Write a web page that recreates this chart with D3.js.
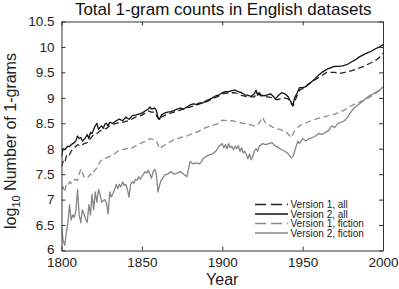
<!DOCTYPE html>
<html><head><meta charset="utf-8">
<script src="https://cdn.jsdelivr.net/npm/d3@7"></script>
<style>body{margin:0;background:#fff}svg{display:block}text{font-family:"Liberation Sans",Arial,sans-serif}</style>
</head><body><div id="c"></div>
<script>
const yearsV2All = [1800,1801,1802,1803,1804,1805,1806,1807,1808,1809,1810,1811,1812,1813,1814,1815,1816,1817,1818,1819,1820,1821,1822,1823,1824,1825,1826,1827,1828,1829,1830,1832,1834,1836,1838,1840,1842,1844,1846,1848,1850,1852,1854,1855,1856,1858,1859,1860,1861,1862,1864,1866,1868,1870,1872,1874,1876,1878,1880,1882,1884,1886,1888,1890,1892,1894,1896,1898,1900,1902,1904,1906,1908,1910,1912,1914,1916,1918,1920,1921,1922,1923,1924,1926,1928,1930,1932,1933,1935,1937,1939,1941,1943,1944,1945,1947,1948,1950,1952,1955,1958,1960,1962,1965,1968,1970,1972,1975,1978,1980,1983,1985,1988,1990,1993,1995,1998,2000];
const v2All = [7.85,8.0,7.98,8.02,8.05,8.04,8.08,8.1,8.12,8.16,8.25,8.2,8.22,8.15,8.18,8.22,8.28,8.2,8.32,8.3,8.38,8.45,8.5,8.38,8.42,8.45,8.4,8.48,8.5,8.45,8.52,8.5,8.55,8.58,8.55,8.62,8.58,8.65,8.66,8.68,8.7,8.74,8.78,8.82,8.78,8.8,8.75,8.62,8.58,8.66,8.7,8.72,8.73,8.75,8.78,8.8,8.78,8.82,8.86,8.88,8.87,8.9,8.9,8.94,8.97,9.0,9.04,9.06,9.1,9.12,9.12,9.14,9.15,9.12,9.1,9.06,9.05,9.03,9.08,9.15,9.05,9.1,9.06,9.04,9.06,9.08,9.02,8.98,9.05,9.1,9.08,9.02,8.9,8.86,9.0,9.12,9.2,9.2,9.22,9.3,9.38,9.45,9.5,9.56,9.6,9.62,9.62,9.63,9.66,9.7,9.75,9.8,9.85,9.88,9.92,9.96,10.0,10.05];
const yearsV1All = [1800,1801,1802,1803,1804,1805,1806,1807,1808,1810,1812,1814,1816,1818,1820,1822,1824,1826,1828,1830,1834,1838,1842,1846,1850,1854,1856,1858,1860,1861,1862,1866,1870,1874,1878,1882,1886,1890,1894,1898,1900,1904,1908,1912,1916,1920,1922,1924,1928,1932,1934,1938,1941,1943,1944,1946,1948,1950,1954,1958,1962,1965,1968,1970,1973,1976,1980,1984,1988,1992,1996,1998,2000];
const v1All = [7.65,7.75,7.72,7.85,7.9,7.88,7.95,8.0,8.02,8.08,8.05,8.1,8.12,8.2,8.28,8.3,8.35,8.38,8.4,8.45,8.5,8.52,8.55,8.62,8.66,8.74,8.72,8.72,8.6,8.56,8.62,8.68,8.72,8.76,8.8,8.84,8.88,8.92,8.98,9.04,9.08,9.1,9.1,9.05,9.02,9.02,9.1,9.04,9.02,9.0,8.96,9.0,8.98,8.88,8.84,9.0,9.15,9.18,9.28,9.36,9.44,9.5,9.5,9.5,9.48,9.5,9.53,9.57,9.62,9.68,9.75,9.8,9.88];
const yearsV1Fic = [1800,1801,1802,1803,1804,1805,1806,1808,1810,1811,1812,1814,1816,1818,1819,1820,1822,1824,1826,1828,1830,1832,1835,1838,1840,1843,1846,1850,1853,1855,1857,1859,1861,1863,1866,1870,1874,1878,1882,1886,1890,1894,1898,1900,1903,1906,1910,1913,1916,1920,1923,1925,1927,1930,1933,1936,1940,1943,1945,1948,1950,1953,1956,1960,1963,1966,1970,1973,1976,1980,1984,1988,1992,1996,2000];
const v1Fic = [7.2,7.25,7.15,7.3,7.28,7.35,7.32,7.4,7.38,7.5,7.6,7.45,7.42,7.5,7.48,7.55,7.62,7.75,7.8,7.82,7.85,7.88,7.95,7.98,8.0,8.0,8.05,8.12,8.15,8.2,8.18,8.15,8.0,8.05,8.1,8.18,8.22,8.25,8.3,8.35,8.42,8.46,8.5,8.56,8.55,8.55,8.52,8.5,8.48,8.45,8.5,8.62,8.5,8.45,8.4,8.38,8.32,8.22,8.35,8.45,8.48,8.52,8.56,8.6,8.62,8.65,8.68,8.72,8.76,8.84,8.9,8.95,9.02,9.1,9.2];
const yearsV2Fic = [1800,1801,1802,1803,1804,1805,1806,1807,1808,1809,1810,1811,1812,1813,1814,1815,1816,1817,1818,1819,1820,1821,1822,1823,1824,1825,1826,1827,1828,1829,1830,1831,1832,1833,1834,1835,1836,1837,1838,1839,1840,1841,1842,1843,1844,1845,1846,1847,1848,1849,1850,1851,1852,1853,1854,1855,1856,1857,1858,1859,1860,1861,1862,1863,1864,1866,1868,1870,1872,1874,1876,1878,1879,1880,1882,1884,1886,1888,1890,1892,1894,1896,1898,1900,1901,1902,1903,1904,1905,1906,1907,1908,1909,1910,1911,1912,1913,1914,1915,1916,1917,1918,1919,1920,1921,1922,1923,1925,1927,1929,1931,1933,1935,1937,1939,1941,1943,1944,1945,1946,1947,1948,1950,1952,1954,1956,1958,1960,1962,1964,1966,1968,1970,1972,1974,1976,1978,1980,1982,1984,1986,1988,1990,1992,1994,1996,1998,2000];
const v2Fic = [6.45,6.2,6.1,6.35,6.55,6.9,6.6,6.7,6.65,6.8,7.2,6.7,6.55,6.8,6.72,6.62,6.55,6.9,6.7,7.1,6.8,7.15,6.95,7.2,7.1,6.95,6.98,7.0,6.92,6.72,7.15,7.05,7.12,7.2,7.3,7.22,7.3,7.25,7.35,7.28,7.3,7.2,7.05,7.3,7.35,7.32,7.4,7.38,7.45,7.4,7.45,7.5,7.55,7.52,7.58,7.5,7.42,7.55,7.6,7.5,7.15,7.28,7.38,7.42,7.48,7.5,7.55,7.5,7.52,7.55,7.5,7.45,7.6,7.75,7.7,7.72,7.7,7.8,7.85,7.88,7.9,7.95,8.05,8.1,8.02,8.08,8.0,8.1,8.02,8.05,7.98,8.05,8.0,8.06,7.95,8.02,7.92,7.95,7.88,7.8,7.9,7.78,7.85,7.95,8.0,7.95,8.05,8.1,8.08,8.1,8.12,8.05,8.02,7.98,7.95,7.9,7.82,7.85,7.95,8.05,8.15,8.1,8.2,8.15,8.2,8.22,8.25,8.3,8.28,8.32,8.35,8.45,8.42,8.5,8.52,8.55,8.62,8.72,8.8,8.85,8.9,8.95,9.0,9.05,9.08,9.12,9.15,9.22];
const yTicks = [6,6.5,7,7.5,8,8.5,9,9.5,10,10.5];
const xTicks = [1800,1850,1900,1950,2000];
const seriesNames = ["Version 1, all","Version 2, all","Version 1, fiction","Version 2, fiction"];

const W=399,H=289, L=61.5, R=383, T=21.5, B=250.5;
const svg=d3.select("#c").append("svg").attr("width",W).attr("height",H);
const x=d3.scaleLinear().domain([1800,2000]).range([L,R]);
const y=d3.scaleLinear().domain([6,10.5]).range([B,T]);

const series=[
 {name:seriesNames[0],yrs:yearsV1All,v:v1All,color:"#222",dash:"6,3.5",w:1.3},
 {name:seriesNames[1],yrs:yearsV2All,v:v2All,color:"#111",dash:null,w:1.3},
 {name:seriesNames[2],yrs:yearsV1Fic,v:v1Fic,color:"#8c8c8c",dash:"6,3.5",w:1.3},
 {name:seriesNames[3],yrs:yearsV2Fic,v:v2Fic,color:"#858585",dash:null,w:1.3}
];
const line=d3.line().x(d=>x(d[0])).y(d=>y(d[1]));
const g=svg.append("g");
g.append("clipPath").attr("id","cp").append("rect").attr("x",L).attr("y",T).attr("width",R-L).attr("height",B-T);
[3,2,0,1].forEach(i=>{const s=series[i];
 g.append("path").attr("clip-path","url(#cp)").datum(s.yrs.map((yr,j)=>[yr,s.v[j]]))
  .attr("d",line).attr("fill","none").attr("stroke",s.color).attr("stroke-width",s.w)
  .attr("stroke-dasharray",s.dash).attr("stroke-linejoin","round");
});

const ax="#333";
const axBottom=svg.append("g").attr("transform",`translate(0,${B})`).call(d3.axisBottom(x).tickValues(xTicks).tickFormat(d3.format("d")).tickSizeInner(-4).tickSizeOuter(0).tickPadding(7));
const axLeft=svg.append("g").attr("transform",`translate(${L},0)`).call(d3.axisLeft(y).tickValues(yTicks).tickFormat(d=>d).tickSizeInner(-4).tickSizeOuter(0).tickPadding(7));
const axTop=svg.append("g").attr("transform",`translate(0,${T})`).call(d3.axisTop(x).tickValues(xTicks).tickFormat("").tickSizeInner(-4).tickSizeOuter(0));
const axRight=svg.append("g").attr("transform",`translate(${R},0)`).call(d3.axisRight(y).tickValues(yTicks).tickFormat("").tickSizeInner(-4).tickSizeOuter(0));
[axBottom,axLeft,axTop,axRight].forEach(a=>{a.selectAll("path,line").attr("stroke",ax).attr("stroke-width",1);
 a.selectAll("text").attr("font-size",13.5).attr("fill","#222").style("font-family","Liberation Sans, Arial, sans-serif");});
axLeft.selectAll("text").filter(d=>d===6).attr("dy","0.2em");

svg.append("text").attr("x",(L+R)/2+1).attr("y",15).attr("text-anchor","middle").attr("font-size",17).attr("fill","#111").text("Total 1-gram counts in English datasets");
svg.append("text").attr("x",(L+R)/2).attr("y",285).attr("text-anchor","middle").attr("font-size",16).attr("fill","#222").text("Year");
const yl=svg.append("text").attr("transform",`translate(16,${(T+B)/2+5}) rotate(-90)`).attr("text-anchor","middle").attr("font-size",16).attr("fill","#222");
yl.append("tspan").text("log");
yl.append("tspan").attr("font-size",11).attr("dy",4).text("10");
yl.append("tspan").attr("dy",-4).text(" Number of 1-grams");

const legY=[204.5,214,223.5,233];
series.forEach((s,i)=>{
 svg.append("line").attr("x1",255).attr("x2",288).attr("y1",legY[i]).attr("y2",legY[i]).attr("stroke",s.color).attr("stroke-width",s.w).attr("stroke-dasharray",s.dash?"11,5":null);
 svg.append("text").attr("x",290.5).attr("y",legY[i]+3.5).attr("font-size",10).attr("fill","#222").text(s.name);
});
</script></body></html>
